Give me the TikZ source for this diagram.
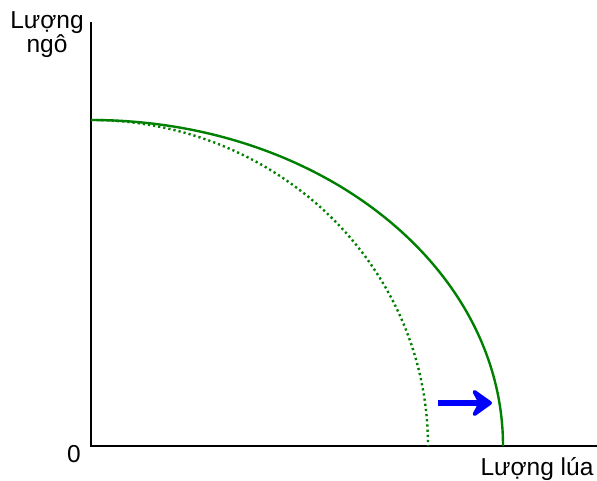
\documentclass[tikz,border=0pt]{standalone}
\usepackage{fontspec}
\setmainfont{Liberation Sans}
\usetikzlibrary{arrows.meta}

\begin{document}
\begin{tikzpicture}[x=1pt, y=1pt,
  truc/.style={black, line width=2.4pt},
  duong/.style={green!50!black, line width=2.4pt},
  duongcu/.style={green!50!black, line width=2.4pt, dash pattern=on 2.2pt off 3pt},
  nhan/.style={font=\fontsize{24.5}{24}\selectfont, inner sep=0pt, align=center},
  dich/.style={-{Stealth[length=24pt, width=34pt, inset=9pt, round]}, blue, line width=5.5pt}]
  \useasboundingbox (0,0) rectangle (597,481);
  \coordinate (O)    at (91,35);
  \coordinate (ydau) at (91,459);
  \coordinate (xdau) at (597,35);
  \coordinate (dinh) at (91,361);
  \coordinate (a1)   at (438,78);
  \coordinate (a2)   at (492,78);
  \node[nhan] (ngo)  at (47,446)  {Lượng\\ngô};
  \node[nhan] (goc)  at (74,27)   {0};
  \node[nhan] (lua)  at (537,12)  {Lượng lúa};
  \draw[truc] (ydau) -- (O) -- (xdau);
  \draw[duongcu] (dinh) arc[start angle=90, end angle=0, x radius=337pt, y radius=326pt];
  \draw[duong] (dinh) arc[start angle=90, end angle=0, x radius=412pt, y radius=326pt];
  \draw[dich] (a1) -- (a2);
\end{tikzpicture}
\end{document}
